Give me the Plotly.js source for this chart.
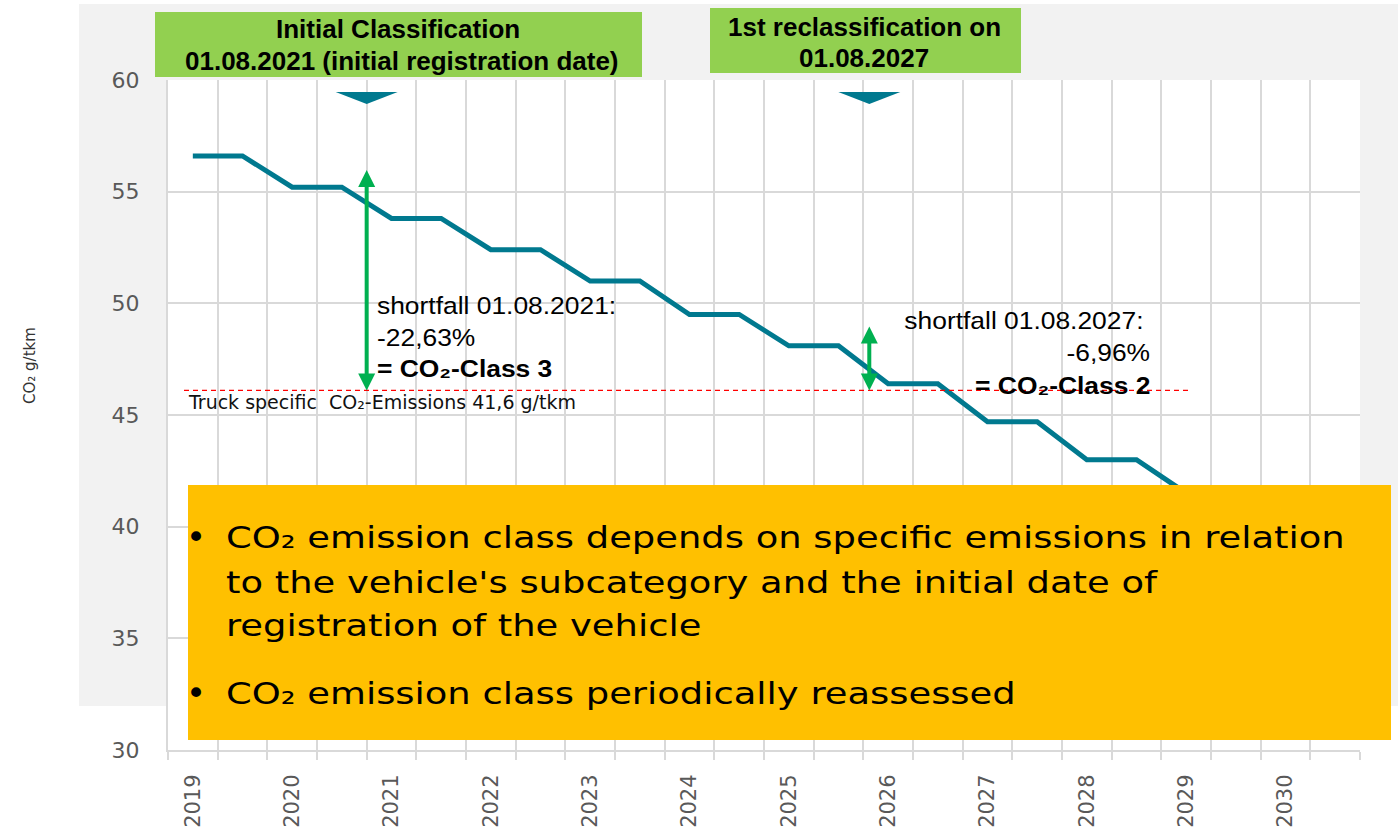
<!DOCTYPE html>
<html>
<head>
<meta charset="utf-8">
<script src="https://cdn.plot.ly/plotly-3.0.1.min.js"></script>
<style>
  html, body { margin: 0; padding: 0; background: #ffffff; }
  #chart { width: 1398px; height: 829px; }
  /* the reference text is horizontally stretched */
  .annotation[data-index="12"] text, .annotation[data-index="13"] text,
  .annotation[data-index="14"] text, .annotation[data-index="16"] text {
    transform-box: fill-box; transform-origin: 0% 50%; transform: scaleX(1.19);
  }
  .annotation[data-index="4"] text, .annotation[data-index="5"] text, .annotation[data-index="6"] text {
    transform-box: fill-box; transform-origin: 0% 50%; transform: scaleX(1.1);
  }
  .annotation[data-index="7"] text, .annotation[data-index="8"] text, .annotation[data-index="9"] text {
    transform-box: fill-box; transform-origin: 100% 50%; transform: scaleX(1.1);
  }
</style>
</head>
<body>
<div id="chart"></div>
<script>
// ---------------- data ----------------
const periods = [2019, 2019.5, 2020, 2020.5, 2021, 2021.5, 2022, 2022.5, 2023, 2023.5, 2024, 2024.5,
                 2025, 2025.5, 2026, 2026.5, 2027, 2027.5, 2028, 2028.5, 2029, 2029.5, 2030, 2030.5];
const targetValues = [56.6, 56.6, 55.2, 55.2, 53.8, 53.8, 52.4, 52.4, 51.0, 51.0, 49.5, 49.5,
                      48.1, 48.1, 46.4, 46.4, 44.7, 44.7, 43.0, 43.0, 41.5, 41.5, 40.0, 40.0];
const yearTicks = [2019, 2020, 2021, 2022, 2023, 2024, 2025, 2026, 2027, 2028, 2029, 2030];
const yearLabels = ['2019', '2020', '2021', '2022', '2023', '2024', '2025', '2026', '2027', '2028', '2029', '2030'];
const truckEmissionLevel = 46.1;           // drawn level of the truck specific emissions
const eventPositions = [2020.75, 2025.81]; // initial classification, 1st reclassification
const arrowTops = [55.97, 48.96];          // top of the shortfall arrows
const eventTitles = [
  ['Initial Classification', '01.08.2021 (initial registration date)'],
  ['1st reclassification on', '01.08.2027']
];
const shortfallTexts = [
  ['shortfall 01.08.2021:', '-22,63%', '<b>= CO₂-Class 3</b>'],
  ['shortfall 01.08.2027:', '-6,96%', '<b>= CO₂-Class 2</b>']
];
const truckLabel = 'Truck specific  CO₂-Emissions 41,6 g/tkm';
const bulletLines = [
  'CO₂ emission class depends on specific emissions in relation',
  'to the vehicle\'s subcategory and the initial date of',
  'registration of the vehicle',
  'CO₂ emission class periodically reassessed'
];
const yTitle = 'CO₂ g/tkm';

// ---------------- geometry helpers ----------------
const L = 168, R = 1360, T = 80, B = 750;
const xRange = [2018.75, 2030.75], yRange = [30, 60];
const pX = px => (px - L) / (R - L);
const pY = py => (B - py) / (B - T);
const dX = px => xRange[0] + (px - L) / (R - L) * (xRange[1] - xRange[0]);
const dY = py => yRange[1] - (py - T) / (B - T) * (yRange[1] - yRange[0]);
const wX = d => d / (R - L) * (xRange[1] - xRange[0]);
const hY = d => d / (B - T) * (yRange[1] - yRange[0]);

const TEAL = '#00798F', GREEN = '#00B050', LGREEN = '#92D050', YELLOW = '#FFC000', GRID = '#D9D9D9';

const shapes = [];
// outer gray panel
shapes.push({type: 'rect', xref: 'paper', yref: 'paper', layer: 'below',
  x0: pX(79), x1: pX(1400), y0: pY(4), y1: pY(706), fillcolor: '#F2F2F2', line: {width: 0}});
// white plot area
shapes.push({type: 'rect', xref: 'paper', yref: 'paper', layer: 'below',
  x0: 0, x1: 1, y0: 0, y1: 1, fillcolor: '#FFFFFF', line: {width: 0}});
// green title boxes
shapes.push({type: 'rect', xref: 'paper', yref: 'paper', layer: 'above',
  x0: pX(155), x1: pX(642), y0: pY(77), y1: pY(12), fillcolor: LGREEN, line: {width: 0}});
shapes.push({type: 'rect', xref: 'paper', yref: 'paper', layer: 'above',
  x0: pX(710), x1: pX(1021), y0: pY(73), y1: pY(8), fillcolor: LGREEN, line: {width: 0}});
// red dashed truck level
shapes.push({type: 'line', xref: 'x', yref: 'y', layer: 'above',
  x0: dX(184), x1: dX(1190), y0: truckEmissionLevel, y1: truckEmissionLevel,
  line: {color: '#FF0000', width: 1.3, dash: '5px,4px'}});
// event markers (down triangles) + double arrows
eventPositions.forEach((ex, i) => {
  const hw = wX(31);
  const yTop = dY(92), yTip = dY(104);
  shapes.push({type: 'path', xref: 'x', yref: 'y', layer: 'above',
    path: `M ${ex - hw},${yTop} L ${ex + hw},${yTop} L ${ex},${yTip} Z`,
    fillcolor: TEAL, line: {width: 0}});
  const top = arrowTops[i], bot = truckEmissionLevel;
  const headH = hY(17), headW = wX(8.5);
  shapes.push({type: 'line', xref: 'x', yref: 'y', layer: 'above',
    x0: ex, x1: ex, y0: bot + headH * 0.8, y1: top - headH * 0.8,
    line: {color: GREEN, width: 4}});
  shapes.push({type: 'path', xref: 'x', yref: 'y', layer: 'above',
    path: `M ${ex - headW},${top - headH} L ${ex + headW},${top - headH} L ${ex},${top} Z`,
    fillcolor: GREEN, line: {width: 0}});
  shapes.push({type: 'path', xref: 'x', yref: 'y', layer: 'above',
    path: `M ${ex - headW},${bot + headH} L ${ex + headW},${bot + headH} L ${ex},${bot} Z`,
    fillcolor: GREEN, line: {width: 0}});
});
// yellow info box
shapes.push({type: 'rect', xref: 'paper', yref: 'paper', layer: 'above',
  x0: pX(188), x1: pX(1391), y0: pY(740), y1: pY(485), fillcolor: YELLOW, line: {width: 0}});

const annotations = [];
const ann = (text, px, py, xanchor, font) => annotations.push({
  text, xref: 'paper', yref: 'paper', x: pX(px), y: pY(py), xanchor, yanchor: 'middle',
  showarrow: false, font, align: xanchor === 'right' ? 'right' : (xanchor === 'left' ? 'left' : 'center')
});
const titleFont = {family: 'Liberation Sans, Arial, sans-serif', size: 26, color: '#000000'};
ann('<b>' + eventTitles[0][0] + '</b>', 398, 29, 'center', titleFont);          // 0
ann('<b>' + eventTitles[0][1] + '</b>', 402, 61, 'center', titleFont);          // 1
ann('<b>' + eventTitles[1][0] + '</b>', 865, 27.5, 'center', titleFont);        // 2
ann('<b>' + eventTitles[1][1] + '</b>', 864, 57.5, 'center', titleFont);        // 3

const sfFont = {family: 'Liberation Sans, Arial, sans-serif', size: 24, color: '#000000'};
ann(shortfallTexts[0][0], 375, 305, 'left', sfFont);                            // 4
ann(shortfallTexts[0][1], 375, 337, 'left', sfFont);                            // 5
ann(shortfallTexts[0][2], 375, 368, 'left', sfFont);                            // 6
ann(shortfallTexts[1][0], 1146, 320, 'right', sfFont);                          // 7
ann(shortfallTexts[1][1], 1152, 352, 'right', sfFont);                          // 8
ann(shortfallTexts[1][2], 1152, 385, 'right', sfFont);                          // 9

ann(truckLabel, 186, 402, 'left', {family: 'DejaVu Sans, Verdana, sans-serif', size: 19, color: '#111111'}); // 10

const boxFont = {family: 'DejaVu Sans, Verdana, sans-serif', size: 31, color: '#000000'};
const bulletFont = {family: 'DejaVu Sans, Verdana, sans-serif', size: 34, color: '#000000'};
ann('•', 184, 537, 'left', bulletFont);                                         // 11
ann(bulletLines[0], 224, 537, 'left', boxFont);                                 // 12
ann(bulletLines[1], 224, 582, 'left', boxFont);                                 // 13
ann(bulletLines[2], 224, 625, 'left', boxFont);                                 // 14
ann('•', 184, 693, 'left', bulletFont);                                         // 15
ann(bulletLines[3], 224, 693, 'left', boxFont);                                 // 16

annotations.push({text: yTitle, xref: 'paper', yref: 'paper', x: pX(30), y: pY(366),   // 17
  xanchor: 'center', yanchor: 'middle', textangle: -90, showarrow: false,
  font: {family: 'DejaVu Sans, Verdana, sans-serif', size: 15, color: '#333333'}});

const trace = {
  x: periods, y: targetValues, type: 'scatter', mode: 'lines',
  line: {color: TEAL, width: 5}, hoverinfo: 'skip', showlegend: false
};

const layout = {
  width: 1398, height: 829, autosize: false,
  margin: {l: L, r: 1398 - R, t: T, b: 829 - B, pad: 0},
  paper_bgcolor: '#FFFFFF', plot_bgcolor: '#FFFFFF',
  showlegend: false,
  xaxis: {
    range: xRange, tickmode: 'array', tickvals: yearTicks, ticktext: yearLabels,
    tickangle: -90, ticks: '', showgrid: false, zeroline: false,
    showline: true, linecolor: GRID, linewidth: 2,
    ticklabelstandoff: 14,
    tickfont: {family: 'DejaVu Sans, Verdana, sans-serif', size: 21, color: '#595959'},
    minor: {tickmode: 'linear', tick0: 2018.75, dtick: 0.5, showgrid: true, gridcolor: GRID, gridwidth: 2,
            ticks: 'outside', ticklen: 8, tickwidth: 2, tickcolor: GRID},
    fixedrange: true
  },
  yaxis: {
    range: yRange, tickmode: 'linear', tick0: 30, dtick: 5,
    showgrid: true, gridcolor: GRID, gridwidth: 2, zeroline: false,
    showline: true, linecolor: GRID, linewidth: 2, ticks: '',
    ticklabelstandoff: 22,
    tickfont: {family: 'DejaVu Sans, Verdana, sans-serif', size: 22, color: '#595959'},
    fixedrange: true
  },
  shapes, annotations
};

Plotly.newPlot('chart', [trace], layout, {displayModeBar: false, staticPlot: true});
</script>
</body>
</html>
